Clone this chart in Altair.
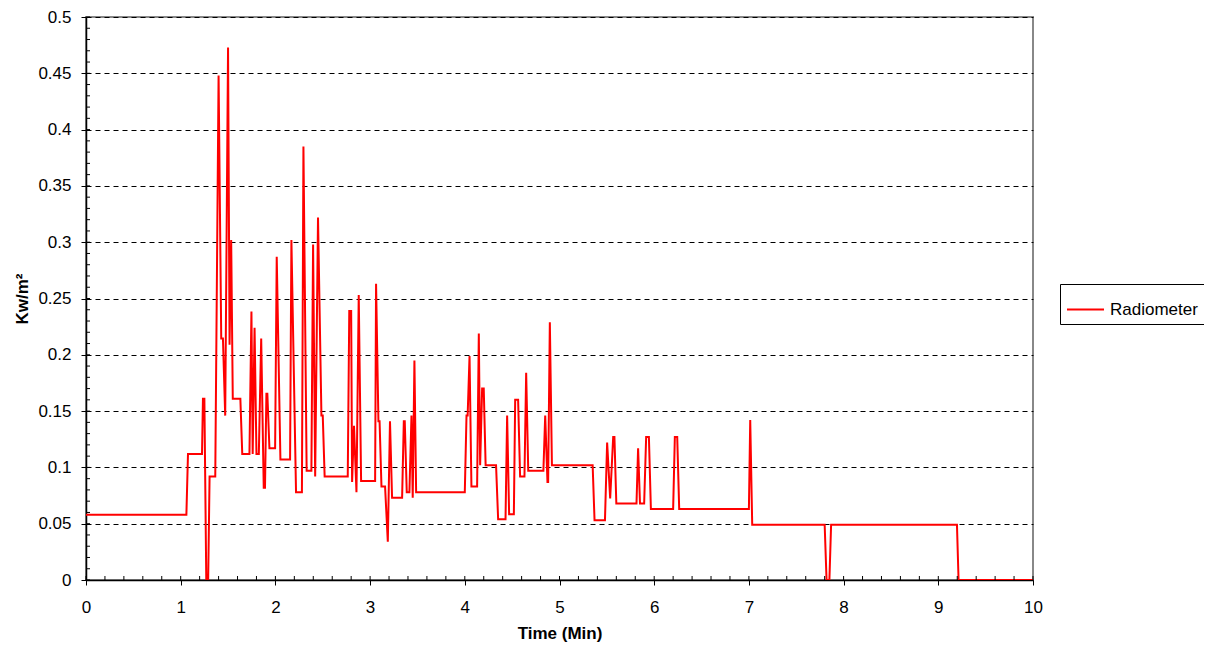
import altair as alt
import pandas as pd

# Radiometer trace (time in minutes, value in kW/m²)
time_min = [
    0, 1.06, 1.077, 1.225, 1.235, 1.25, 1.27, 1.29, 1.305, 1.365,
    1.40, 1.428, 1.446, 1.47, 1.50, 1.516, 1.533, 1.55, 1.63, 1.65,
    1.726, 1.747, 1.76, 1.78, 1.80, 1.825, 1.85, 1.877, 1.89, 1.905,
    1.915, 1.937, 1.997, 2.014, 2.053, 2.155, 2.169, 2.218, 2.28, 2.296,
    2.33, 2.38, 2.398, 2.42, 2.45, 2.486, 2.50, 2.52, 2.764, 2.78,
    2.80, 2.81, 2.83, 2.856, 2.88, 2.905, 3.053, 3.063, 3.088, 3.10,
    3.12, 3.158, 3.187, 3.21, 3.232, 3.338, 3.356, 3.366, 3.387, 3.415,
    3.437, 3.45, 3.468, 3.486, 4.0, 4.018, 4.03, 4.05, 4.07, 4.13,
    4.148, 4.162, 4.183, 4.20, 4.22, 4.33, 4.352, 4.43, 4.447, 4.468,
    4.518, 4.532, 4.563, 4.584, 4.63, 4.648, 4.67, 4.83, 4.849, 4.873,
    4.88, 4.898, 4.92, 5.35, 5.37, 5.48, 5.503, 5.535, 5.567, 5.58,
    5.60, 5.813, 5.83, 5.85, 5.894, 5.915, 5.944, 5.965, 6.20, 6.218,
    6.243, 6.264, 7.0, 7.014, 7.035, 7.80, 7.82, 7.85, 7.868, 9.197,
    9.214, 10.0,
]
radiometer = [
    0.058, 0.058, 0.112, 0.112, 0.161, 0.161, 0.0, 0.0, 0.092, 0.092,
    0.448, 0.2145, 0.2145, 0.146, 0.473, 0.209, 0.302, 0.161, 0.161, 0.112,
    0.112, 0.2385, 0.112, 0.224, 0.112, 0.112, 0.2145, 0.082, 0.082, 0.1655,
    0.1655, 0.117, 0.117, 0.287, 0.107, 0.107, 0.302, 0.078, 0.078, 0.385,
    0.097, 0.097, 0.298, 0.092, 0.322, 0.146, 0.146, 0.092, 0.092, 0.239,
    0.239, 0.087, 0.137, 0.078, 0.253, 0.088, 0.088, 0.263, 0.141, 0.141,
    0.083, 0.083, 0.034, 0.141, 0.073, 0.073, 0.141, 0.141, 0.078, 0.078,
    0.146, 0.073, 0.195, 0.078, 0.078, 0.146, 0.146, 0.199, 0.083, 0.083,
    0.219, 0.102, 0.170, 0.170, 0.102, 0.102, 0.054, 0.054, 0.146, 0.0585,
    0.0585, 0.160, 0.160, 0.092, 0.092, 0.184, 0.097, 0.097, 0.146, 0.087,
    0.087, 0.229, 0.102, 0.102, 0.053, 0.053, 0.122, 0.0725, 0.127, 0.127,
    0.068, 0.068, 0.117, 0.068, 0.068, 0.127, 0.127, 0.063, 0.063, 0.127,
    0.127, 0.063, 0.063, 0.142, 0.049, 0.049, 0.0, 0.0, 0.049, 0.049,
    0.0, 0.0,
]
series_name = "Radiometer"

x_ticks = [0, 1, 2, 3, 4, 5, 6, 7, 8, 9, 10]
y_ticks = [0, 0.05, 0.1, 0.15, 0.2, 0.25, 0.3, 0.35, 0.4, 0.45, 0.5]
x_minor = [round(i * 0.2, 2) for i in range(0, 51)]
y_minor = [round(i * 0.01, 2) for i in range(0, 51)]

FONT = "Liberation Sans"

df = pd.DataFrame({"time": time_min, "value": radiometer, "series": series_name})
df_xminor = pd.DataFrame({"time": x_minor})
df_yminor = pd.DataFrame({"value": y_minor})

x_scale = alt.Scale(domain=[0, 10], nice=False, zero=False)
y_scale = alt.Scale(domain=[0, 0.5], nice=False)

x_axis = alt.Axis(values=x_ticks, format="~r", grid=False, labelFlush=False,
                  labelPadding=14, titleY=58.5, titleBaseline="alphabetic")
y_axis = alt.Axis(values=y_ticks, format="~r", grid=True, labelFlush=False,
                  gridDash=[5, 4], gridColor="#000000", gridWidth=1,
                  labelPadding=10, titleX=-59, titleY=281.5,
                  titleBaseline="alphabetic")

X_TITLE = "Time (Min)"
Y_TITLE = "Kw/m²"

line = alt.Chart(df).mark_line(strokeWidth=2, clip=True).encode(
    x=alt.X("time:Q", scale=x_scale, title=X_TITLE, axis=x_axis),
    y=alt.Y("value:Q", scale=y_scale, title=Y_TITLE, axis=y_axis),
    color=alt.Color("series:N",
                    scale=alt.Scale(domain=[series_name], range=["#ff0000"]),
                    legend=alt.Legend(title=None, orient="none", legendX=974, legendY=267,
                                      symbolType="stroke", symbolSize=1369,
                                      symbolStrokeWidth=2, labelFontSize=17,
                                      labelFont=FONT, labelColor="#000000",
                                      labelOffset=5, padding=6,
                                      strokeColor="#000000", fillColor="#ffffff")),
    order=alt.Order("time:Q"),
)

xminor = alt.Chart(df_xminor).mark_rule(color="#000000", strokeWidth=1).encode(
    x=alt.X("time:Q", scale=x_scale, title=X_TITLE, axis=x_axis),
    y=alt.value(563),
    y2=alt.value(559),
)

yminor = alt.Chart(df_yminor).mark_rule(color="#000000", strokeWidth=1).encode(
    y=alt.Y("value:Q", scale=y_scale, title=Y_TITLE, axis=y_axis),
    x=alt.value(0),
    x2=alt.value(4),
)

chart = (
    alt.layer(line, xminor, yminor)
    .properties(
        width=947,
        height=563,
        padding={"left": 78, "top": 9, "right": 171, "bottom": 62},
        autosize=alt.AutoSizeParams(type="none"),
        background="#ffffff",
    )
    .configure_view(stroke="#888888", strokeWidth=2)
    .configure_axis(
        labelFont=FONT,
        labelFontSize=17,
        labelColor="#000000",
        titleFont=FONT,
        titleFontSize=17,
        titleFontWeight="bold",
        titleColor="#000000",
        domainColor="#000000",
        domainWidth=1.5,
        tickColor="#000000",
        tickSize=5,
        tickWidth=1,
    )
)

chart.save("out.html", embed_options={"renderer": "svg", "actions": False})
